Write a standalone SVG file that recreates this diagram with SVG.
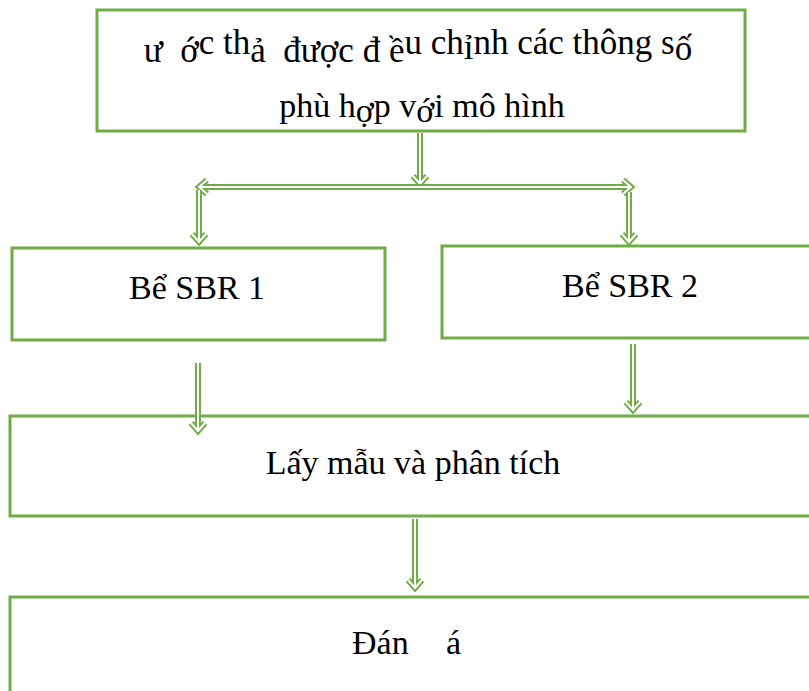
<svg xmlns="http://www.w3.org/2000/svg" width="809" height="691" viewBox="0 0 809 691">
<style>
  .box { fill: #ffffff; stroke: #70AD47; stroke-width: 3; }
  .t { font-family: "Liberation Serif", "Times New Roman", "DejaVu Serif", serif; font-size: 34px; fill: #000000; white-space: pre; }
  .big { font-size: 35px; }
  .ao { fill: none; stroke: #70AD47; stroke-width: 6; stroke-linejoin: miter; }
  .ai { fill: none; stroke: #ffffff; stroke-width: 2; stroke-linejoin: miter; }
</style>
<rect x="0" y="0" width="809" height="691" fill="#ffffff"/>

<g id="node-top">
  <rect class="box" x="97" y="10" width="648" height="121"/>
  <text class="t big" x="418" y="62" text-anchor="middle">ư  ớ<tspan dy="-8">c th</tspan><tspan dy="8">ả  được đ ề</tspan><tspan dy="-8">u ch</tspan><tspan dy="5">ỉ</tspan><tspan dy="-5">nh các thông s</tspan><tspan dy="6">ố</tspan></text>
  <text class="t" x="422" y="117" text-anchor="middle">phù h<tspan dy="5">ợ</tspan><tspan dy="-5">p v</tspan><tspan dy="5">ớ</tspan><tspan dy="-5">i mô hình</tspan></text>
</g>

<g id="node-sbr1">
  <rect class="box" x="12" y="248" width="373" height="92"/>
  <text class="t" x="197" y="299" text-anchor="middle">Bể SBR 1</text>
</g>

<g id="node-sbr2">
  <rect class="box" x="442" y="246" width="380" height="92"/>
  <text class="t" x="630" y="297" text-anchor="middle">Bể SBR 2</text>
</g>

<g id="node-laymau">
  <rect class="box" x="10" y="416" width="820" height="100"/>
  <text class="t" x="413" y="474" text-anchor="middle">Lấy mẫu và phân tích</text>
</g>

<g id="node-danhgia">
  <rect class="box" x="10" y="597" width="820" height="130"/>
  <text class="t" x="352" y="654">Đán</text>
  <text class="t" x="446" y="654">á</text>
</g>

<g id="connectors">
  <g>
    <path class="ao" d="M420,133 V184 M413,176 L420,184 L427,176"/>
    <path class="ai" d="M420,133 V184 M413,176 L420,184 L427,176"/>
  </g>
  <g>
    <path class="ao" d="M199,187 H631 M207,180 L199,187 L207,194 M623,180 L631,187 L623,194"/>
    <path class="ai" d="M199,187 H631 M207,180 L199,187 L207,194 M623,180 L631,187 L623,194"/>
  </g>
  <g>
    <path class="ao" d="M199,190 V242 M192,234 L199,242 L206,234"/>
    <path class="ai" d="M199,190 V242 M192,234 L199,242 L206,234"/>
  </g>
  <g>
    <path class="ao" d="M629,192 V242 M622,234 L629,242 L636,234"/>
    <path class="ai" d="M629,192 V242 M622,234 L629,242 L636,234"/>
  </g>
  <g>
    <path class="ao" d="M198,363 V431 M191,423 L198,431 L205,423"/>
    <path class="ai" d="M198,363 V431 M191,423 L198,431 L205,423"/>
  </g>
  <g>
    <path class="ao" d="M633,344 V410 M626,402 L633,410 L640,402"/>
    <path class="ai" d="M633,344 V410 M626,402 L633,410 L640,402"/>
  </g>
  <g>
    <path class="ao" d="M415,519 V588 M408,580 L415,588 L422,580"/>
    <path class="ai" d="M415,519 V588 M408,580 L415,588 L422,580"/>
  </g>
</g>
</svg>
